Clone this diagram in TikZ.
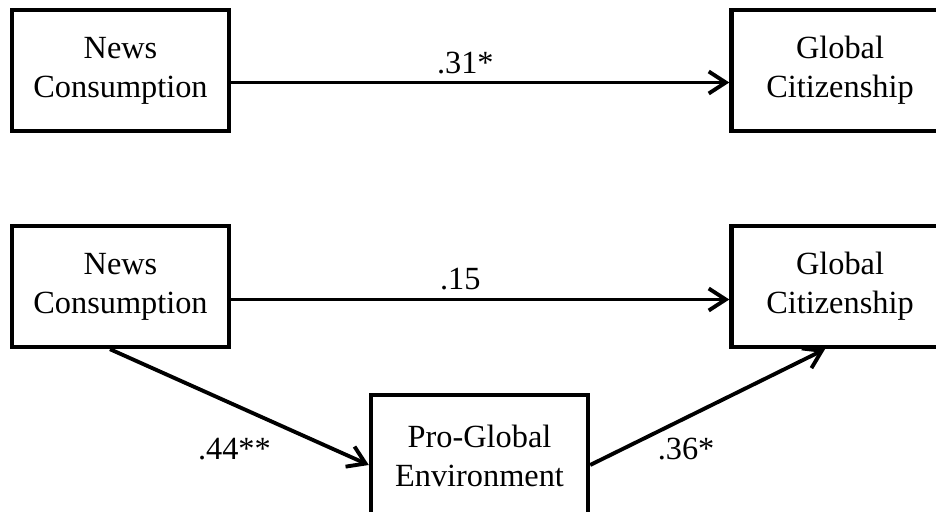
\documentclass[tikz,border=0pt]{standalone}
\usepackage{fontspec}
\setmainfont{Liberation Serif}
\usetikzlibrary{arrows.meta,positioning}

\begin{document}
\begin{tikzpicture}[
  varbox/.style={draw,line width=2.5pt,minimum width=4.34cm,minimum height=2.42cm,
    align=center,inner sep=0pt,font=\fontsize{18.4}{22.2}\selectfont},
  effect/.style={line width=2.2pt,-{Straight Barb[length=0.34cm,width=0.44cm,line width=2.2pt]}},
  coef/.style={font=\fontsize{18.4}{22.2}\selectfont,inner sep=0pt}]
  \clip (0,0) rectangle (18.72,10.24);
  \node[varbox] (news1) at (2.41,8.83) {News\\Consumption};
  \node[varbox] (glob1) at (16.8,8.83) {Global\\Citizenship};
  \node[varbox] (news2) at (2.41,4.51) {News\\Consumption};
  \node[varbox] (glob2) at (16.8,4.51) {Global\\Citizenship};
  \node[varbox] (pro) at (9.59,1.13) {Pro-Global\\Environment};
  \draw[effect] ([yshift=-0.24cm]news1.east) -- node[coef,pos=0.47,yshift=0.38cm] {.31*} ([yshift=-0.24cm]glob1.west);
  \draw[effect] ([yshift=-0.26cm]news2.east) -- node[coef,pos=0.46,yshift=0.4cm] {.15} ([yshift=-0.26cm]glob2.west);
  \draw[effect] ([xshift=-0.21cm]news2.south) -- node[coef,midway,xshift=-0.1cm,yshift=-0.84cm] {.44**} ([yshift=-0.19cm]pro.west);
  \draw[effect] ([yshift=-0.19cm]pro.east) -- node[coef,midway,xshift=-0.43cm,yshift=-0.84cm] {.36*} ([xshift=-0.3cm]glob2.south);
\end{tikzpicture}
\end{document}
